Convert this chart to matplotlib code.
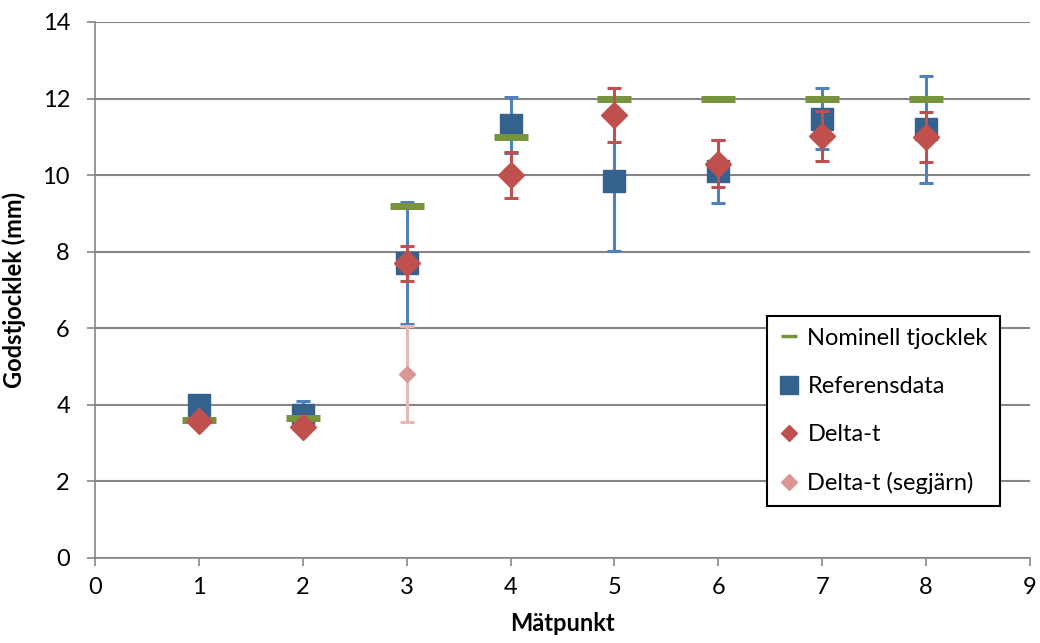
import matplotlib.pyplot as plt
import numpy as np

plt.rcParams['font.family'] = ['Lato', 'DejaVu Sans']

# Mätpunkt
points = [1, 2, 3, 4, 5, 6, 7, 8]
nominell = [3.6, 3.65, 9.2, 11.0, 12.0, 12.0, 12.0, 12.0]

referens = [4.0, 3.73, 7.7, 11.31, 9.85, 10.1, 11.47, 11.2]
referens_err = [0.0, 0.37, 1.6, 0.72, 1.83, 0.82, 0.8, 1.4]

delta_t = [3.58, 3.42, 7.7, 10.0, 11.57, 10.3, 11.02, 11.0]
delta_t_err = [0.0, 0.0, 0.46, 0.6, 0.7, 0.62, 0.65, 0.66]

segjarn_x = [3]
segjarn = [4.8]
segjarn_err = [1.25]


def main():
	fig = plt.figure(figsize=(10.4, 6.43), dpi=100)
	ax = fig.add_axes([0.0913, 0.1322, 0.8991, 0.8336])

	grid_c = '#868686'
	ax.set_xlim(0, 9)
	ax.set_ylim(0, 14)
	ax.set_xticks(range(0, 10))
	ax.set_yticks(range(0, 15, 2))
	ax.yaxis.grid(True, color=grid_c, linewidth=1.5, zorder=0)
	ax.set_axisbelow(True)
	for s in ['top', 'right']:
		ax.spines[s].set_visible(False)
	for s in ['left', 'bottom']:
		ax.spines[s].set_color(grid_c)
		ax.spines[s].set_linewidth(1.2)
	ax.tick_params(colors=grid_c, labelcolor='black', labelsize=17, length=6, width=1.2)
	ax.tick_params(axis='y', pad=12)
	ax.tick_params(axis='x', pad=8)

	# error bars
	ax.errorbar(points, referens, yerr=referens_err, fmt='none', ecolor='#4F81BD',
		elinewidth=2.2, capsize=5, capthick=2.2, zorder=3)
	ax.errorbar(points, delta_t, yerr=delta_t_err, fmt='none', ecolor='#C0504D',
		elinewidth=2.2, capsize=5, capthick=2.2, zorder=5)
	ax.errorbar(segjarn_x, segjarn, yerr=segjarn_err, fmt='none', ecolor='#E6B9B8',
		elinewidth=2.2, capsize=5, capthick=2.2, zorder=6)

	h_nom, = ax.plot(points, nominell, linestyle='none', marker='_', markersize=25,
		markeredgewidth=5, color='#77933C', label='Nominell tjocklek', zorder=4)
	h_ref, = ax.plot(points, referens, linestyle='none', marker='s', markersize=16,
		color='#35618F', label='Referensdata', zorder=3.5)
	h_dt, = ax.plot(points, delta_t, linestyle='none', marker='D', markersize=13,
		color='#C0504D', label='Delta-t', zorder=5.5)
	h_seg, = ax.plot(segjarn_x, segjarn, linestyle='none', marker='D', markersize=8.5,
		color='#D99694', label='Delta-t (segjärn)', zorder=6.5)

	ax.set_xlabel('Mätpunkt', fontsize=17, fontweight='bold', labelpad=10)
	ax.set_ylabel('Godstjocklek (mm)', fontsize=17, fontweight='bold', labelpad=12)

	leg = ax.legend(handles=[h_nom, h_ref, h_dt, h_seg], loc='lower left',
		bbox_to_anchor=(0.719, 0.097), fontsize=17, frameon=True, fancybox=False,
		edgecolor='black', framealpha=1, handlelength=0.8, handletextpad=0.4,
		labelspacing=1.15, borderpad=0.5, borderaxespad=0)
	leg.get_frame().set_linewidth(1.5)
	leg.legend_handles[0].set_markersize(12)
	leg.legend_handles[0].set_markeredgewidth(2.5)
	leg.legend_handles[1].set_markersize(12.5)
	leg.legend_handles[2].set_markersize(8.5)
	leg.legend_handles[3].set_markersize(8.5)

	fig.savefig('out.png', dpi=100)


if __name__ == '__main__':
	main()
